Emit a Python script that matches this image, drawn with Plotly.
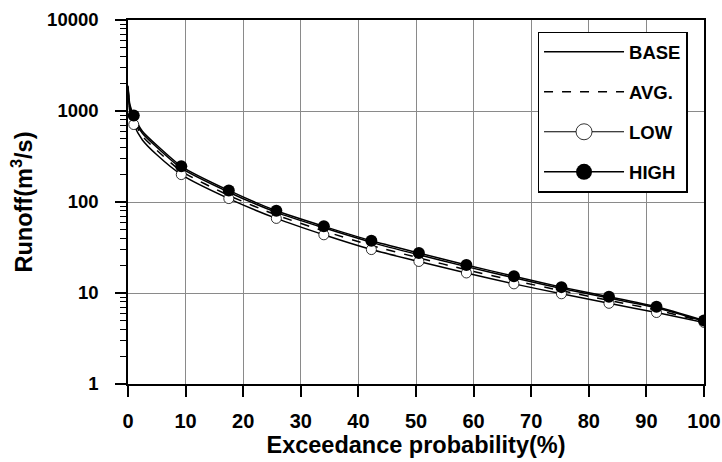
import plotly.graph_objects as go

# ---- data ----
X_LINE = [0, 0.3, 1, 2.5, 5, 9.25, 17.5, 25.75, 34, 42.25, 50.5, 58.75, 67, 75.25, 83.5, 91.75, 100]
BASE = [1850, 1150, 840, 570, 400, 235, 128, 77, 52, 36, 26.3, 19.5, 14.7, 11.2, 8.8, 6.9, 4.9]
AVG = [1800, 1100, 780, 530, 370, 218, 118, 72, 48, 33.3, 24.3, 18.0, 13.7, 10.6, 8.3, 6.5, 4.85]
LOW = [1700, 1000, 710, 480, 330, 200, 109, 66, 43.6, 30, 22.2, 16.6, 12.6, 9.8, 7.7, 6.1, 4.75]
HIGH = [1900, 1200, 890, 600, 420, 247, 134, 80, 54, 37.5, 27.5, 20.3, 15.3, 11.6, 9.1, 7.05, 4.98]
MARK_X = [1, 9.25, 17.5, 25.75, 34, 42.25, 50.5, 58.75, 67, 75.25, 83.5, 91.75, 100]

X_TICKS = [0, 10, 20, 30, 40, 50, 60, 70, 80, 90, 100]
Y_TICKS = [1, 10, 100, 1000, 10000]
Y_TICK_TEXT = ["1", "10", "100", "1000", "10000"]
SERIES_NAMES = ["BASE", "AVG.", "LOW", "HIGH"]

FONT = "Liberation Sans"


def at_marks(values):
    return [v for x, v in zip(X_LINE, values) if x in MARK_X]


fig = go.Figure()

line_style = dict(color="black", width=1.5, shape="spline", smoothing=0.6)

fig.add_trace(go.Scatter(x=X_LINE, y=LOW, mode="lines", line=line_style, showlegend=False))
fig.add_trace(go.Scatter(x=X_LINE, y=AVG, mode="lines", line=dict(line_style, dash="dash"), showlegend=False))
fig.add_trace(go.Scatter(x=X_LINE, y=BASE, mode="lines", line=line_style, showlegend=False))
fig.add_trace(go.Scatter(x=X_LINE, y=HIGH, mode="lines", line=line_style, showlegend=False))

fig.add_trace(go.Scatter(x=MARK_X, y=at_marks(LOW), mode="markers", showlegend=False,
                         marker=dict(symbol="circle", size=10, color="white",
                                     line=dict(color="black", width=0.8))))
fig.add_trace(go.Scatter(x=MARK_X, y=at_marks(HIGH), mode="markers", showlegend=False,
                         marker=dict(symbol="circle", size=12, color="black",
                                     line=dict(color="black", width=0))))

# legend entries
legend_styles = [
    dict(mode="lines", line=dict(color="black", width=1.5)),
    dict(mode="lines", line=dict(color="black", width=1.5, dash="dash")),
    dict(mode="lines+markers", line=dict(color="black", width=1.2),
         marker=dict(size=16, color="white", line=dict(color="black", width=0.8))),
    dict(mode="lines+markers", line=dict(color="black", width=1.5),
         marker=dict(size=16, color="black")),
]
for i, (name, st) in enumerate(zip(SERIES_NAMES, legend_styles)):
    fig.add_trace(go.Scatter(x=[None], y=[None], name=name, legendgroup=f"g{i}",
                             showlegend=True, **st))

x_tick_font = dict(family=FONT, size=20, color="black", weight="bold")
y_tick_font = dict(family=FONT, size=18.5, color="black", weight="bold")
title_font = dict(family=FONT, size=23.5, color="black", weight="bold")

fig.update_layout(
    width=722, height=462,
    margin=dict(l=128, r=18, t=20, b=78),
    paper_bgcolor="white", plot_bgcolor="white",
    font=dict(family=FONT, color="black"),
    showlegend=True,
    legend=dict(
        x=0.711, y=0.968, xanchor="left", yanchor="top",
        bgcolor="white", bordercolor="black", borderwidth=1.5,
        font=dict(family=FONT, size=18.5, color="black", weight="bold"),
        traceorder="grouped", tracegroupgap=13, itemwidth=80,
    ),
    xaxis=dict(
        range=[0, 100], tickvals=X_TICKS, ticks="outside", ticklen=11, tickwidth=1.5,
        tickcolor="black", showline=True, linecolor="black", linewidth=1.5, mirror=True,
        showgrid=True, gridcolor="#8a8a8a", gridwidth=1, zeroline=False,
        tickfont=x_tick_font, ticklabelstandoff=7, automargin=False,
        title=dict(text="Exceedance probability(%)", font=title_font, standoff=6),
    ),
    yaxis=dict(
        type="log", range=[0, 4], tickvals=Y_TICKS, ticktext=Y_TICK_TEXT,
        ticks="outside", ticklen=11, tickwidth=1.5, tickcolor="black",
        showline=True, linecolor="black", linewidth=1.5, mirror=True,
        showgrid=True, gridcolor="#8a8a8a", gridwidth=1, zeroline=False,
        tickfont=y_tick_font, ticklabelstandoff=13, automargin=False,
        minor=dict(dtick="D1", ticks="outside", ticklen=6, tickwidth=1, tickcolor="black",
                   showgrid=False),
        title=dict(text="Runoff(m<sup>3</sup>/s)", font=title_font, standoff=8),
    ),
)

fig.write_html("out.html")
